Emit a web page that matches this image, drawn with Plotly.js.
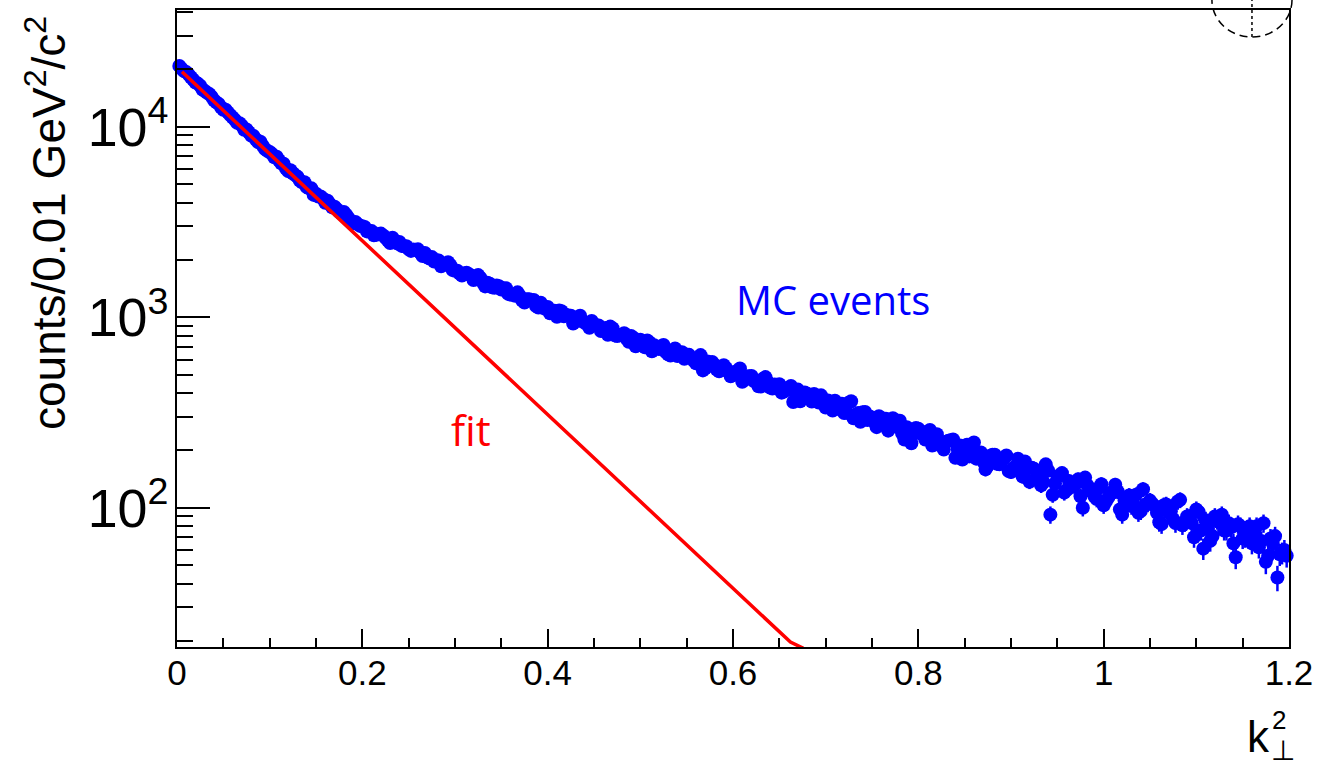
<!DOCTYPE html>
<html><head><meta charset="utf-8">
<script src="https://cdn.plot.ly/plotly-3.0.1.min.js"></script>
<style>html,body{margin:0;padding:0;background:#fff}#chart{width:1319px;height:771px}</style>
</head><body><div id="chart"></div>
<script>
// bin centres of k_perp^2 (GeV^2/c^2), bins of 0.0025: odd-numbered bins
const kPerp2Odd = [
0.0025,0.0075,0.0125,0.0175,0.0225,0.0275,0.0325,0.0375,0.0425,0.0475,
0.0525,0.0575,0.0625,0.0675,0.0725,0.0775,0.0825,0.0875,0.0925,0.0975,
0.1025,0.1075,0.1125,0.1175,0.1225,0.1275,0.1325,0.1375,0.1425,0.1475,
0.1525,0.1575,0.1625,0.1675,0.1725,0.1775,0.1825,0.1875,0.1925,0.1975,
0.2025,0.2075,0.2125,0.2175,0.2225,0.2275,0.2325,0.2375,0.2425,0.2475,
0.2525,0.2575,0.2625,0.2675,0.2725,0.2775,0.2825,0.2875,0.2925,0.2975,
0.3025,0.3075,0.3125,0.3175,0.3225,0.3275,0.3325,0.3375,0.3425,0.3475,
0.3525,0.3575,0.3625,0.3675,0.3725,0.3775,0.3825,0.3875,0.3925,0.3975,
0.4025,0.4075,0.4125,0.4175,0.4225,0.4275,0.4325,0.4375,0.4425,0.4475,
0.4525,0.4575,0.4625,0.4675,0.4725,0.4775,0.4825,0.4875,0.4925,0.4975,
0.5025,0.5075,0.5125,0.5175,0.5225,0.5275,0.5325,0.5375,0.5425,0.5475,
0.5525,0.5575,0.5625,0.5675,0.5725,0.5775,0.5825,0.5875,0.5925,0.5975,
0.6025,0.6075,0.6125,0.6175,0.6225,0.6275,0.6325,0.6375,0.6425,0.6475,
0.6525,0.6575,0.6625,0.6675,0.6725,0.6775,0.6825,0.6875,0.6925,0.6975,
0.7025,0.7075,0.7125,0.7175,0.7225,0.7275,0.7325,0.7375,0.7425,0.7475,
0.7525,0.7575,0.7625,0.7675,0.7725,0.7775,0.7825,0.7875,0.7925,0.7975,
0.8025,0.8075,0.8125,0.8175,0.8225,0.8275,0.8325,0.8375,0.8425,0.8475,
0.8525,0.8575,0.8625,0.8675,0.8725,0.8775,0.8825,0.8875,0.8925,0.8975,
0.9025,0.9075,0.9125,0.9175,0.9225,0.9275,0.9325,0.9375,0.9425,0.9475,
0.9525,0.9575,0.9625,0.9675,0.9725,0.9775,0.9825,0.9875,0.9925,0.9975,
1.0025,1.0075,1.0125,1.0175,1.0225,1.0275,1.0325,1.0375,1.0425,1.0475,
1.0525,1.0575,1.0625,1.0675,1.0725,1.0775,1.0825,1.0875,1.0925,1.0975,
1.1025,1.1075,1.1125,1.1175,1.1225,1.1275,1.1325,1.1375,1.1425,1.1475,
1.1525,1.1575,1.1625,1.1675,1.1725,1.1775,1.1825,1.1875,1.1925,1.1975];
const countsOdd = [
20870,19590,18830,17650,16850,15690,15065,14360,13430,12670,
12285,11510,10870,10430,9650,9360,8940,8320,7950,7470,
7210,6970,6430,6047,5913,5576,5221,5110,4755,4390,
4308,4201,4094,3774,3696,3503,3457,3185,3164,3017,
2975,2836,2697,2733,2688,2538,2618,2442,2369,2360,
2230,2255,2178,2177,2034,1960,1983,1896,1945,1769,
1757,1658,1712,1655,1585,1606,1452,1501,1428,1454,
1414,1326,1314,1351,1222,1242,1224,1145,1193,1109,
1049,1081,1086,1012,1023,927,997,952,921,956,
908,846,879,893,803,804,825,743,780,749,
724,756,663,700,705,657,630,686,641,605,
635,592,598,526,585,583,532,530,540,490,
510,539,469,490,463,434,476,458,423,431,
402,423,436,397,362,403,380,396,357,354,
366,324,345,352,315,362,308,283,318,301,
282,302,279,254,295,272,245,265,218,262,
245,228,256,215,224,202,225,228,203,179,
214,194,181,195,159,187,190,169,182,156,
162,181,146,160,162,143,131,169,92,134,
148,120,138,130,141,100,131,124,111,133,
108,120,132,98,109,116,103,94,125,105,
105,94,82,104,96,83,110,84,89,70,
95,61,78,71,86,92,76,79,55,80,
70,80,74,62,83,56,65,43,58,56];
// even-numbered bins
const kPerp2Even = [
0.005,0.010,0.015,0.020,0.025,0.030,0.035,0.040,0.045,0.050,
0.055,0.060,0.065,0.070,0.075,0.080,0.085,0.090,0.095,0.100,
0.105,0.110,0.115,0.120,0.125,0.130,0.135,0.140,0.145,0.150,
0.155,0.160,0.165,0.170,0.175,0.180,0.185,0.190,0.195,0.200,
0.205,0.210,0.215,0.220,0.225,0.230,0.235,0.240,0.245,0.250,
0.255,0.260,0.265,0.270,0.275,0.280,0.285,0.290,0.295,0.300,
0.305,0.310,0.315,0.320,0.325,0.330,0.335,0.340,0.345,0.350,
0.355,0.360,0.365,0.370,0.375,0.380,0.385,0.390,0.395,0.400,
0.405,0.410,0.415,0.420,0.425,0.430,0.435,0.440,0.445,0.450,
0.455,0.460,0.465,0.470,0.475,0.480,0.485,0.490,0.495,0.500,
0.505,0.510,0.515,0.520,0.525,0.530,0.535,0.540,0.545,0.550,
0.555,0.560,0.565,0.570,0.575,0.580,0.585,0.590,0.595,0.600,
0.605,0.610,0.615,0.620,0.625,0.630,0.635,0.640,0.645,0.650,
0.655,0.660,0.665,0.670,0.675,0.680,0.685,0.690,0.695,0.700,
0.705,0.710,0.715,0.720,0.725,0.730,0.735,0.740,0.745,0.750,
0.755,0.760,0.765,0.770,0.775,0.780,0.785,0.790,0.795,0.800,
0.805,0.810,0.815,0.820,0.825,0.830,0.835,0.840,0.845,0.850,
0.855,0.860,0.865,0.870,0.875,0.880,0.885,0.890,0.895,0.900,
0.905,0.910,0.915,0.920,0.925,0.930,0.935,0.940,0.945,0.950,
0.955,0.960,0.965,0.970,0.975,0.980,0.985,0.990,0.995,1.000,
1.005,1.010,1.015,1.020,1.025,1.030,1.035,1.040,1.045,1.050,
1.055,1.060,1.065,1.070,1.075,1.080,1.085,1.090,1.095,1.100,
1.105,1.110,1.115,1.120,1.125,1.130,1.135,1.140,1.145,1.150,
1.155,1.160,1.165,1.170,1.175,1.180,1.185,1.190,1.195];
const countsEven = [
20180,19360,18210,17080,16410,15400,14840,13760,13185,12270,
11900,11180,10480,10140,9670,9005,8604,8340,7635,7370,
6912,6675,6400,5847,5703,5465,5118,4821,4750,4456,
4308,3993,3931,3807,3574,3571,3325,3113,3083,3000,
2823,2833,2709,2749,2615,2451,2520,2483,2361,2280,
2266,2273,2095,2066,2069,1989,1850,1896,1877,1753,
1698,1699,1683,1569,1665,1520,1519,1437,1470,1400,
1420,1315,1298,1292,1196,1244,1233,1125,1122,1132,
1076,1006,1076,1027,1019,951,1018,934,881,913,
905,867,810,875,798,810,773,797,705,762,
696,738,712,681,716,639,654,626,656,628,
612,574,633,539,559,564,520,560,520,499,
526,458,488,492,458,433,485,428,444,445,
407,420,359,417,396,397,361,366,389,336,
359,365,330,314,356,295,314,317,289,298,
265,295,293,265,268,286,228,257,245,260,
250,232,212,243,211,222,226,183,212,195,
186,220,193,175,166,190,170,178,188,154,
164,154,175,137,160,152,136,157,117,146,
152,124,129,134,115,144,123,115,127,103,
113,120,122,92,113,102,117,96,104,109,
102,84,103,94,87,108,81,90,83,98,
76,86,67,90,84,76,83,65,82,69,
77,65,80,67,52,69,71,57,60];
// fit curve (straight on the log scale), end points as drawn
const fitK = [0.0054, 0.662, 0.676];
const fitCounts = [19450, 19.7, 18.3];

const mcK = kPerp2Odd.concat(kPerp2Even);
const mcCounts = countsOdd.concat(countsEven);

const traces = [
  {type:'scatter', mode:'markers', x:mcK, y:mcCounts, name:'MC events',
   marker:{color:'#0000ff', size:14, line:{width:0}},
   error_y:{type:'sqrt', visible:true, color:'#0000ff', thickness:2.5, width:0},
   cliponaxis:false, showlegend:false, hoverinfo:'x+y'},
  {type:'scatter', mode:'lines', x:fitK, y:fitCounts, name:'fit',
   line:{color:'#ff0000', width:3.5}, showlegend:false}
];

const axisFont = 'Liberation Sans, Arial, Helvetica, sans-serif';
const layout = {
  width:1319, height:771,
  margin:{l:177, r:30, t:10, b:124, pad:0},
  paper_bgcolor:'#ffffff', plot_bgcolor:'#ffffff',
  showlegend:false,
  xaxis:{
    range:[0,1.2], tick0:0, dtick:0.2, ticks:'inside', ticklen:18, tickwidth:2, tickcolor:'#000',
    showline:true, linewidth:2, linecolor:'#000', mirror:true, showgrid:false, zeroline:false,
    tickfont:{family:axisFont, size:35, color:'#000'}, ticklabelstandoff:-6,
    minor:{ticks:'inside', tick0:0, dtick:0.05, ticklen:9, tickwidth:2, tickcolor:'#000', showgrid:false}
  },
  yaxis:{
    type:'log', range:[1.269,4.613], dtick:1, exponentformat:'power',
    ticks:'inside', ticklen:33, tickwidth:2, tickcolor:'#000',
    showline:true, linewidth:2, linecolor:'#000', mirror:true, showgrid:false, zeroline:false,
    tickfont:{family:axisFont, size:43, color:'#000'}, ticklabelstandoff:-2,
    minor:{ticks:'inside', dtick:'D1', ticklen:16, tickwidth:2, tickcolor:'#000', showgrid:false}
  },
  annotations:[
    {text:'counts/0.01 GeV<sup>2</sup>/c<sup>2</sup>', textangle:-90, xref:'paper', yref:'paper',
     x:-0.1178, y:0.9937, xanchor:'center', yanchor:'top', showarrow:false,
     font:{family:axisFont, size:46, color:'#000'}},
    {text:'MC events', xref:'paper', yref:'paper', x:0.590, y:0.545, xanchor:'center', yanchor:'middle',
     showarrow:false, font:{family:'Open Sans, Noto Sans, sans-serif', size:40, color:'#0000ff'}},
    {text:'fit', xref:'paper', yref:'paper', x:0.264, y:0.341, xanchor:'center', yanchor:'middle',
     showarrow:false, font:{family:'Open Sans, Noto Sans, sans-serif', size:42, color:'#ff0000'}},
    {text:'k', xref:'paper', yref:'paper', x:0.973, y:-0.1405, xanchor:'center', yanchor:'middle',
     showarrow:false, font:{family:axisFont, size:44, color:'#000'}},
    {text:'2', xref:'paper', yref:'paper', x:0.9906, y:-0.1145, xanchor:'center', yanchor:'middle',
     showarrow:false, font:{family:axisFont, size:26, color:'#000'}},
    {text:'\u22A5', xref:'paper', yref:'paper', x:0.9946, y:-0.1620, xanchor:'center', yanchor:'middle',
     showarrow:false, font:{family:'DejaVu Sans, sans-serif', size:28, color:'#000'}}
  ],
  shapes:[
    {type:'circle', xref:'paper', yref:'paper', x0:0.9307, x1:1.0027, y0:0.9576, y1:1.0738,
     line:{color:'#000', width:1.5, dash:'8px,5px'}, fillcolor:'rgba(0,0,0,0)'},
    {type:'line', xref:'paper', yref:'paper', x0:0.9667, x1:0.9667, y0:0.9576, y1:1.0157,
     line:{color:'#000', width:1.5, dash:'dot'}}
  ]
};

Plotly.newPlot('chart', traces, layout, {displayModeBar:false, staticPlot:true});
</script>
</body></html>
